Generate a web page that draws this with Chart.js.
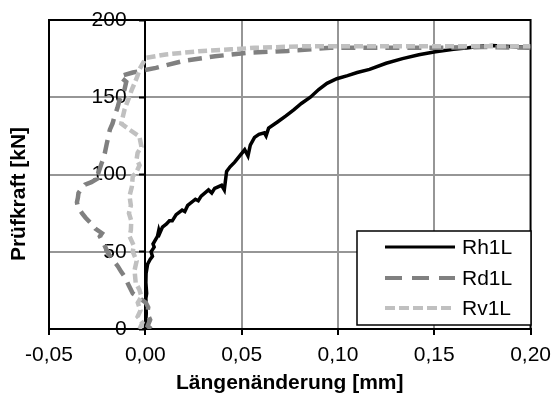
<!DOCTYPE html>
<html>
<head>
<meta charset="utf-8">
<script src="https://cdn.jsdelivr.net/npm/chart.js@4.4.1/dist/chart.umd.min.js"></script>
<style>
  html, body { margin: 0; padding: 0; background: #fff; }
</style>
</head>
<body>
<canvas id="chart" width="559" height="396"></canvas>
<script>
// === Daten ===
const xTicks = [-0.05, 0, 0.05, 0.10, 0.15, 0.20];
const yTicks = [0, 50, 100, 150, 200];
const seriesNames = ["Rh1L", "Rd1L", "Rv1L"];

const rh1lX = [0.0000, 0.0005, 0.0003, 0.0007, 0.0003, 0.0004, 0.0012, 0.0025, 0.0037, 0.0030, 0.0046, 0.0040,
  0.0063, 0.0070, 0.0075, 0.0089, 0.0110, 0.0125, 0.0140, 0.0160, 0.0191, 0.0205, 0.0220, 0.0260, 0.0275,
  0.0290, 0.0328, 0.0345, 0.0360, 0.0396, 0.0410, 0.0415, 0.0422, 0.0440, 0.0464, 0.0490, 0.0516, 0.0533,
  0.0545, 0.0567, 0.0590, 0.0618, 0.0627, 0.0640, 0.0686, 0.0730, 0.0772, 0.0810, 0.0857, 0.0900, 0.0943,
  0.0994, 0.1050, 0.1100, 0.1164, 0.1250, 0.1335, 0.1420, 0.1506, 0.1600, 0.1677, 0.1740, 0.1800, 0.1870,
  0.1950, 0.2000];
const rh1lY = [0, 10, 20, 23, 30, 36, 42, 45, 47, 50, 53, 55,
  60, 64, 62, 66, 68, 70, 70, 74, 77, 76, 80, 84, 83,
  86, 90, 88, 91, 93, 90, 95, 102, 105, 108, 112, 116, 112,
  119, 124, 126, 127, 125, 130, 134, 138, 142, 146, 150, 155, 159,
  162, 164, 166, 168, 172, 175, 177.5, 179.5, 181, 182, 183, 183.5, 183,
  182.5, 182];

const rd1lX = [0.0030, 0.0012, 0.0025, 0.0010, 0.0015, 0.0003, -0.0030, -0.0065, -0.0085, -0.0108, -0.0125,
  -0.0142, -0.0170, -0.0193, -0.0215, -0.0236, -0.0225, -0.0260, -0.0287, -0.0310, -0.0329, -0.0350,
  -0.0355, -0.0350, -0.0347, -0.0330, -0.0313, -0.0280, -0.0253, -0.0270, -0.0244, -0.0225, -0.0210,
  -0.0200, -0.0184, -0.0170, -0.0159, -0.0145, -0.0133, -0.0120, -0.0108, -0.0099, -0.0133, -0.0065,
  0.0055, 0.0190, 0.0362, 0.0533, 0.0738, 0.0960, 0.1164, 0.1506, 0.1750, 0.2000];
const rd1lY = [0, 2, 6, 10, 14, 17, 20, 23, 28, 34, 37,
  40.5, 45, 49, 55, 60, 62, 65, 69, 72, 75, 79,
  82, 85, 88, 91, 93.5, 95, 97, 99, 101, 108, 114,
  120, 129, 133, 138, 143, 148.5, 152, 155, 160, 163.5, 166,
  169, 173.3, 176.5, 178.8, 180, 182, 182, 182, 182.5, 182];

const rv1lX = [-0.0030, -0.0015, -0.0040, -0.0025, -0.0039, -0.0020, -0.0031, -0.0050, -0.0056, -0.0045,
  -0.0065, -0.0060, -0.0082, -0.0075, -0.0073, -0.0085, -0.0075, -0.0082, -0.0070, -0.0065, -0.0048,
  -0.0030, -0.0045, -0.0040, -0.0020, -0.0031, -0.0082, -0.0125, -0.0108, -0.0082, -0.0070, -0.0056,
  -0.0040, -0.0031, 0.0003, 0.0106, 0.0277, 0.0446, 0.0567, 0.0823, 0.1335, 0.1700, 0.2000];
const rv1lY = [0, 4, 8, 12, 17, 21, 25.5, 30, 38, 44,
  50, 54, 60, 64, 70, 75, 80, 86, 92, 99, 101,
  106, 110, 114, 118, 124.7, 129, 133, 142, 150.6, 155, 159,
  164, 168, 175.5, 177.7, 179.8, 181, 182, 183, 183, 183, 183];

function toPoints(xs, ys) {
  return xs.map((x, i) => ({ x: x, y: ys[i] }));
}

const FONT = "'Liberation Sans', Arial, sans-serif";
const gridGrey = "#969696";

// === Rahmen, Legende, Y-Titel ===
const framePlugin = {
  id: "frame",
  beforeDatasetsDraw(chart) {
    const { ctx, chartArea: a } = chart;
    ctx.save();
    ctx.strokeStyle = "#000";
    ctx.lineWidth = 2;
    ctx.beginPath();
    ctx.moveTo(a.left, a.bottom);
    ctx.lineTo(a.left, a.top);
    ctx.lineTo(a.right, a.top);
    ctx.lineTo(a.right, a.bottom);
    ctx.stroke();
    ctx.restore();
  },
  afterDraw(chart) {
    const ctx = chart.ctx;
    ctx.save();
    // Legende
    const bx = 357, by = 231, bw = 174, bh = 94;
    ctx.fillStyle = "#fff";
    ctx.fillRect(bx, by, bw, bh);
    ctx.strokeStyle = "#000";
    ctx.lineWidth = 1.5;
    ctx.strokeRect(bx, by, bw, bh);
    const rows = [247, 278, 308];
    ctx.font = "21px " + FONT;
    ctx.textBaseline = "middle";
    ctx.textAlign = "left";
    chart.data.datasets.forEach((ds, i) => {
      ctx.beginPath();
      ctx.strokeStyle = ds.borderColor;
      ctx.lineWidth = ds.legendWidth || ds.borderWidth;
      ctx.setLineDash(ds.legendDash || []);
      ctx.moveTo(385, rows[i]);
      ctx.lineTo(455, rows[i]);
      ctx.stroke();
      ctx.setLineDash([]);
      ctx.fillStyle = "#000";
      ctx.fillText(ds.label, 462, rows[i] + 1);
    });
    // Y-Achsentitel
    ctx.translate(19.5, 194);
    ctx.rotate(-Math.PI / 2);
    ctx.font = "bold 21px " + FONT;
    ctx.textAlign = "center";
    ctx.fillText("Prüfkraft [kN]", 0, 0);
    ctx.restore();
  }
};

const yTickFont = { family: FONT, size: 21 };

new Chart(document.getElementById("chart"), {
  type: "scatter",
  data: {
    datasets: [
      {
        label: seriesNames[0],
        data: toPoints(rh1lX, rh1lY),
        borderColor: "#000000",
        borderWidth: 3.5,
        legendWidth: 3,
        order: 3
      },
      {
        label: seriesNames[1],
        data: toPoints(rd1lX, rd1lY),
        borderColor: "#808080",
        borderWidth: 4.5,
        legendWidth: 4,
        borderDash: [14, 8],
        legendDash: [17, 10],
        order: 2
      },
      {
        label: seriesNames[2],
        data: toPoints(rv1lX, rv1lY),
        borderColor: "#c0c0c0",
        borderWidth: 4.5,
        legendWidth: 4,
        borderDash: [9, 4],
        legendDash: [10, 4],
        order: 1
      }
    ]
  },
  options: {
    responsive: false,
    animation: false,
    showLine: true,
    elements: { point: { radius: 0 }, line: { tension: 0 } },
    layout: { padding: { left: 0, right: 23, top: 20, bottom: 0 } },
    plugins: { legend: { display: false }, tooltip: { enabled: false } },
    scales: {
      x: {
        type: "linear",
        min: -0.05,
        max: 0.2,
        afterBuildTicks: s => { s.ticks = xTicks.map(v => ({ value: v })); },
        afterFit: s => { s.height = 67; },
        ticks: {
          font: { family: FONT, size: 21 },
          color: "#000",
          padding: 8,
          maxRotation: 0,
          autoSkip: false,
          callback: v => v.toFixed(2).replace(".", ",")
        },
        grid: {
          color: c => (c.tick && [xTicks[0], 0, xTicks[xTicks.length - 1]].includes(c.tick.value)) ? "rgba(0,0,0,0)" : gridGrey,
          lineWidth: 2,
          tickLength: 6,
          tickColor: "#000",
          tickWidth: 2
        },
        border: { color: "#000", width: 2 },
        title: {
          display: true,
          text: "Längenänderung [mm]",
          color: "#000",
          font: { family: FONT, size: 21, weight: "bold" },
          padding: { top: 0, bottom: 0 }
        }
      },
      y: {
        position: "left",
        min: 0,
        max: 200,
        afterBuildTicks: s => { s.ticks = yTicks.map(v => ({ value: v })); },
        afterFit: s => { s.width = 49; },
        ticks: { display: false },
        grid: {
          color: c => (c.tick && (c.tick.value === 0 || c.tick.value === 200)) ? "rgba(0,0,0,0)" : gridGrey,
          lineWidth: 2,
          drawTicks: false
        },
        border: { color: "#000", width: 2 }
      },
      // Achse bei x = 0 (Linie + Teilstriche)
      yz: {
        axis: "y",
        position: { x: 0 },
        min: 0,
        max: 200,
        afterBuildTicks: s => { s.ticks = yTicks.map(v => ({ value: v })); },
        ticks: { display: false },
        grid: { drawOnChartArea: false, tickLength: 5, tickColor: "#000", tickWidth: 2 },
        border: { color: "#000", width: 2 }
      },
      // Beschriftung links neben der Achse
      yl: {
        axis: "y",
        position: { x: -0.0097 },
        min: 0,
        max: 200,
        afterBuildTicks: s => { s.ticks = yTicks.map(v => ({ value: v })); },
        ticks: { font: yTickFont, color: "#000", padding: 0 },
        grid: { display: false },
        border: { display: false }
      }
    }
  },
  plugins: [framePlugin]
});
</script>
</body>
</html>
